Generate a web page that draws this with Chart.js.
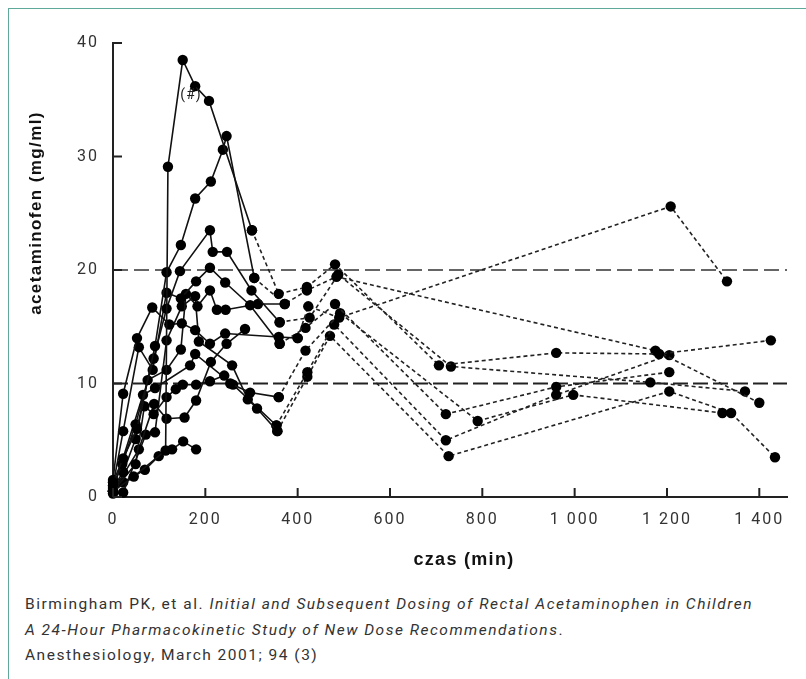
<!DOCTYPE html>
<html>
<head>
    <title>acetaminofen</title>
    <style>
        body { margin: 0; background: #fff; }
        #wrap { position: relative; width: 806px; height: 679px; overflow: hidden; }
        #frame {
            position: absolute; left: 8px; top: 8px; width: 900px; height: 800px;
            border-left: 1.5px solid #5fa99a; border-top: 1.5px solid #5fa99a;
        }
        #chartBox { position: absolute; left: 0; top: 0; width: 806px; height: 580px; }
        #caption {
            position: absolute; left: 25px; top: 592px;
            font-family: Roboto, "Liberation Sans", sans-serif; font-size: 15.5px;
            letter-spacing: 1.5px; line-height: 25.5px; color: #333;
        }
    </style>
    <script src="https://cdn.jsdelivr.net/npm/chart.js"></script>
</head>
<body>
<div id="wrap">
    <div id="frame"></div>
    <div id="chartBox"><canvas id="chart" width="806" height="580"></canvas></div>
    <div id="caption">
        Birmingham PK, et al. <i>Initial and Subsequent Dosing of Rectal Acetaminophen in Children</i><br>
        <i>A 24-Hour Pharmacokinetic Study of New Dose Recommendations</i>.<br>
        Anesthesiology, March 2001; 94 (3)
    </div>
</div>
<script>
    // czas (min), acetaminofen (mg/ml) - pierwsza dawka (linie ciagle)
    var solidA = [[0,0.5],[45,1.8],[114,4.1],[119,29.1],[151,38.5],[178,36.2],[208,34.9],[301,23.5]];
    var solidB = [[0,1.3],[22,3.4],[52,6.0],[91,13.3],[116,19.8],[147,22.2],[178,26.3],[212,27.8],[238,30.6],[246,31.8],[306,19.3]];
    var solidC = [[0,1.0],[20,2.9],[49,6.4],[88,12.2],[116,16.6],[145,19.9],[210,23.5],[216,21.6],[247,21.6],[300,18.2],[361,15.4]];
    var solidD = [[0,1.5],[22,9.1],[52,14.0],[85,16.7],[122,15.2],[149,15.3],[178,14.7],[210,13.5],[243,14.4],[359,14.1],[400,14.0]];
    var solidE = [[0,1.0],[22,5.8],[56,13.2],[86,11.2],[116,18.0],[147,17.5],[180,19.0],[210,20.2],[243,18.9],[297,16.9],[361,13.5]];
    var solidF = [[0,0.8],[22,2.2],[49,5.1],[75,10.3],[116,11.2],[147,13.0],[158,17.9],[183,16.8],[210,18.2],[225,16.5],[244,16.5],[314,17.0],[372,17.0]];
    var solidG = [[0,0.5],[49,2.9],[68,8.0],[88,7.3],[116,8.8],[136,9.5],[151,9.9],[180,9.9],[210,10.2],[241,10.7],[254,10.0],[297,9.2],[359,8.8]];
    var solidH = [[0,0.5],[56,4.2],[89,8.2],[116,6.9],[155,7.0],[180,8.5],[212,11.9],[246,13.5],[286,14.8]];
    var solidI = [[0,0.3],[22,0.4],[71,5.5],[91,5.7],[116,13.8],[149,16.8],[178,17.7],[186,13.7],[258,11.6],[292,8.6],[312,7.8],[356,5.8]];
    var solidJ = [[0,0.6],[65,9.0],[91,9.6],[167,11.6],[178,12.6],[260,9.9],[354,6.3]];
    var solidL = [[0,0.5],[22,1.3],[69,2.4],[99,3.6],[128,4.2],[152,4.9],[180,4.2]];

    // kolejne dawki (linie kropkowane)
    var dotted1 = [[301,23.5],[359,17.9],[420,18.5],[481,20.5],[706,11.6],[960,12.7],[1183,12.6],[1425,13.8]];
    var dotted2 = [[306,19.3],[372,17.0],[420,18.2],[484,19.4],[1175,12.9],[1400,8.3]];
    var dotted3 = [[400,14.0],[423,16.8],[490,15.8],[1208,25.6],[1330,19.0]];
    var dotted4 = [[361,15.4],[426,15.8],[488,19.6],[732,11.5],[1164,10.1],[1369,9.3]];
    var dotted5 = [[361,13.5],[417,14.9],[481,17.0],[721,7.3],[960,9.7],[1205,11.0]];
    var dotted6 = [[359,8.8],[417,12.9],[492,16.2],[790,6.7],[997,9.0],[1320,7.4]];
    var dotted7 = [[354,6.3],[421,11.0],[479,15.2],[721,5.0],[960,9.0],[1205,12.5]];
    var dotted8 = [[356,5.8],[421,10.6],[470,14.2],[727,3.6],[1205,9.3],[1339,7.4],[1434,3.5]];

    var refLow = 10;
    var refHigh = 20;
    var xMax = 1460;
    var xTicks = [0, 200, 400, 600, 800, 1000, 1200, 1400];
    var yTicks = [0, 10, 20, 30, 40];
    var xTitle = 'czas (min)';
    var yTitle = 'acetaminofen (mg/ml)';

    function pts(arr) {
        return arr.map(function(p) { return {x: p[0], y: p[1]}; });
    }

    var datasets = [];
    [solidA, solidB, solidC, solidD, solidE, solidF, solidG, solidH, solidI, solidJ, solidL].forEach(function(s) {
        datasets.push({
            data: pts(s), showLine: true, borderColor: '#111', borderWidth: 1.6,
            pointRadius: 5.2, pointBackgroundColor: '#000', pointBorderWidth: 0, order: 1
        });
    });
    [dotted1, dotted2, dotted3, dotted4, dotted5, dotted6, dotted7, dotted8].forEach(function(s) {
        datasets.push({
            data: pts(s), showLine: true, borderColor: '#222', borderWidth: 1.6, borderDash: [4, 3],
            pointRadius: 5.2, pointBackgroundColor: '#000', pointBorderWidth: 0, order: 1
        });
    });
    datasets.push({
        data: [{x: 0, y: refHigh}, {x: xMax, y: refHigh}], showLine: true,
        borderColor: '#333', borderWidth: 1.3, borderDash: [15, 6], pointRadius: 0, order: 2
    });
    datasets.push({
        data: [{x: 0, y: refLow}, {x: xMax, y: refLow}], showLine: true,
        borderColor: '#222', borderWidth: 2.2, borderDash: [15, 5], pointRadius: 0, order: 2
    });

    // szerszy rozstaw liter jak w oryginale, ticki skierowane do srodka, tytuly osi
    var styling = {
        id: 'styling',
        beforeDraw: function(chart) { chart.ctx.letterSpacing = '2px'; },
        beforeDatasetsDraw: function(chart) { chart.ctx.letterSpacing = '0px'; },
        afterDraw: function(chart) {
            var ctx = chart.ctx;
            var xs = chart.scales.x, ys = chart.scales.y;
            ctx.save();
            ctx.strokeStyle = '#222';
            ctx.lineWidth = 2;
            xTicks.forEach(function(v) {
                var px = xs.getPixelForValue(v);
                ctx.beginPath(); ctx.moveTo(px, ys.bottom); ctx.lineTo(px, ys.bottom - 9); ctx.stroke();
            });
            yTicks.forEach(function(v) {
                var py = ys.getPixelForValue(v);
                ctx.beginPath(); ctx.moveTo(xs.left, py); ctx.lineTo(xs.left + 9, py); ctx.stroke();
            });
            ctx.fillStyle = '#222';
            ctx.font = '14px Roboto, "Liberation Sans", sans-serif';
            ctx.letterSpacing = '1px';
            ctx.textAlign = 'center';
            ctx.textBaseline = 'middle';
            ctx.fillText('(#)', xs.getPixelForValue(169), ys.getPixelForValue(35.4));

            ctx.fillStyle = '#111';
            ctx.font = 'bold 18px "Liberation Sans", Arial, sans-serif';
            ctx.letterSpacing = '1.3px';
            ctx.fillText(xTitle, 464, 560);
            ctx.font = 'bold 17px "Liberation Sans", Arial, sans-serif';
            ctx.letterSpacing = '1.4px';
            ctx.translate(36, 213);
            ctx.rotate(-Math.PI / 2);
            ctx.fillText(yTitle, 0, 0);
            ctx.restore();
        }
    };

    new Chart(document.getElementById('chart').getContext('2d'), {
        type: 'scatter',
        data: { datasets: datasets },
        plugins: [styling],
        options: {
            responsive: false,
            animation: false,
            clip: false,
            layout: { padding: { top: 43, right: 19, left: 0, bottom: 0 } },
            plugins: { legend: { display: false }, tooltip: { enabled: false } },
            scales: {
                x: {
                    type: 'linear', min: 0, max: xMax,
                    afterFit: function(s) { s.height = 83; },
                    grid: { display: false, drawTicks: false },
                    border: { display: true, color: '#222', width: 2 },
                    ticks: {
                        stepSize: 200, includeBounds: false, padding: 13, color: '#333',
                        font: { family: 'Roboto, "Liberation Sans", sans-serif', size: 16 },
                        callback: function(v) { return v >= 1000 ? String(v).replace(/(\d)(\d{3})$/, '$1 $2') : String(v); }
                    }
                },
                y: {
                    min: 0, max: 40,
                    afterFit: function(s) { s.width = 113; },
                    grid: { display: false, drawTicks: false },
                    border: { display: true, color: '#222', width: 2 },
                    ticks: {
                        stepSize: 10, padding: 14, color: '#333',
                        font: { family: 'Roboto, "Liberation Sans", sans-serif', size: 16 }
                    }
                }
            }
        }
    });
</script>
</body>
</html>
